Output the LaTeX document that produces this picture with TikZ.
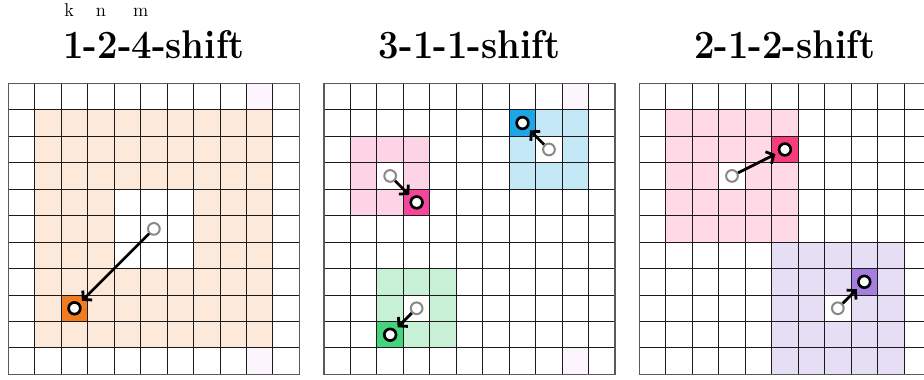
\documentclass[tikz,border=0pt]{standalone}
\usetikzlibrary{arrows.meta}
\definecolor{orangeL}{HTML}{FDE9DA}
\definecolor{orangeD}{HTML}{F07B20}
\definecolor{pinkL}{HTML}{FDD3E6}
\definecolor{pinkD}{HTML}{F3489A}
\definecolor{pinkTL}{HTML}{FFDAE6}
\definecolor{pinkTD}{HTML}{F43F7A}
\definecolor{blueL}{HTML}{C5E8F7}
\definecolor{blueD}{HTML}{1EA5E6}
\definecolor{greenL}{HTML}{C8F0D6}
\definecolor{greenD}{HTML}{45D37D}
\definecolor{purpleL}{HTML}{E6DEF5}
\definecolor{purpleD}{HTML}{A67EDF}
\definecolor{faintC}{HTML}{FDF5FD}
\definecolor{lineC}{HTML}{1A1A1A}
\definecolor{borderC}{HTML}{5A5A5A}
\definecolor{srcC}{HTML}{888888}
\tikzset{
  titletext/.style={inner sep=0pt, font=\fontsize{27.3pt}{30pt}\selectfont\bfseries},
  lettertext/.style={inner sep=0pt, font=\fontsize{14pt}{15pt}\selectfont},
  gridline/.style={draw=lineC, line width=0.75pt},
  gridborder/.style={draw=borderC, line width=1.1pt},
  srcdot/.style={circle, draw=srcC, fill=white, line width=1.5pt, minimum size=8.8pt, inner sep=0pt},
  dstdot/.style={circle, draw=black, fill=white, line width=2pt, minimum size=8.8pt, inner sep=0pt},
  shiftarrow/.style={draw=black, line width=2.1pt, -{Straight Barb[length=4.5pt,width=10pt]}, shorten >=2.5pt},
  cellgrid/.style={x=19.85pt, y=-19.85pt}
}
\begin{document}
\begin{tikzpicture}[x=0.75pt, y=-0.75pt]
\clip (0,0) rectangle (924,379);
\fill[white] (0,0) rectangle (924,379);

% titles
\node[titletext, anchor=base] (t1) at (154,58) {\scalebox{1}[1.1]{1-2-4-shift}};
\node[titletext, anchor=base] (t2) at (469.5,58) {\scalebox{1}[1.1]{3-1-1-shift}};
\node[titletext, anchor=base] (t3) at (784.8,58) {\scalebox{1}[1.1]{2-1-2-shift}};
\node[lettertext, anchor=base] (lk) at (69.3,16) {k};
\node[lettertext, anchor=base] (ln) at (101,16) {n};
\node[lettertext, anchor=base] (lm) at (140.7,16) {m};

% grid 1
\begin{scope}[shift={(6.225pt,-62.475pt)}, cellgrid]
  \fill[orangeL] (1,1) rectangle (10,10);
  \fill[white] (4,4) rectangle (7,7);
  \fill[orangeD] (2,8) rectangle (3,9);
  \fill[faintC] (9,0) rectangle (10,1);
  \fill[faintC] (9,10) rectangle (10,11);
  \foreach \i in {1,...,10} {
    \draw[gridline] (\i,0) -- (\i,11);
    \draw[gridline] (0,\i) -- (11,\i);
  }
  \draw[gridborder] (0,0) rectangle (11,11);
  \node[srcdot] (s1) at (5.5,5.5) {};
  \node[dstdot] (d1) at (2.5,8.5) {};
  \draw[shiftarrow] (s1) -- (d1);
\end{scope}

% grid 2
\begin{scope}[shift={(243pt,-62.475pt)}, cellgrid]
  \fill[blueL] (7,1) rectangle (10,4);
  \fill[white] (8,2) rectangle (9,3);
  \fill[blueD] (7,1) rectangle (8,2);
  \fill[pinkL] (1,2) rectangle (4,5);
  \fill[white] (2,3) rectangle (3,4);
  \fill[pinkD] (3,4) rectangle (4,5);
  \fill[greenL] (2,7) rectangle (5,10);
  \fill[white] (3,8) rectangle (4,9);
  \fill[greenD] (2,9) rectangle (3,10);
  \fill[faintC] (9,0) rectangle (10,1);
  \fill[faintC] (9,10) rectangle (10,11);
  \foreach \i in {1,...,10} {
    \draw[gridline] (\i,0) -- (\i,11);
    \draw[gridline] (0,\i) -- (11,\i);
  }
  \draw[gridborder] (0,0) rectangle (11,11);
  \node[srcdot] (s2a) at (8.5,2.5) {};
  \node[dstdot] (d2a) at (7.5,1.5) {};
  \draw[shiftarrow] (s2a) -- (d2a);
  \node[srcdot] (s2b) at (2.5,3.5) {};
  \node[dstdot] (d2b) at (3.5,4.5) {};
  \draw[shiftarrow] (s2b) -- (d2b);
  \node[srcdot] (s2c) at (3.5,8.5) {};
  \node[dstdot] (d2c) at (2.5,9.5) {};
  \draw[shiftarrow] (s2c) -- (d2c);
\end{scope}

% grid 3
\begin{scope}[shift={(479.5pt,-62.475pt)}, cellgrid]
  \fill[pinkTL] (1,1) rectangle (6,6);
  \fill[white] (3,3) rectangle (4,4);
  \fill[pinkTD] (5,2) rectangle (6,3);
  \fill[purpleL] (5,6) rectangle (10,11);
  \fill[white] (7,8) rectangle (8,9);
  \fill[purpleD] (8,7) rectangle (9,8);
  \foreach \i in {1,...,10} {
    \draw[gridline] (\i,0) -- (\i,11);
    \draw[gridline] (0,\i) -- (11,\i);
  }
  \draw[gridborder] (0,0) rectangle (11,11);
  \node[srcdot] (s3a) at (3.5,3.5) {};
  \node[dstdot] (d3a) at (5.5,2.5) {};
  \draw[shiftarrow] (s3a) -- (d3a);
  \node[srcdot] (s3b) at (7.5,8.5) {};
  \node[dstdot] (d3b) at (8.5,7.5) {};
  \draw[shiftarrow] (s3b) -- (d3b);
\end{scope}
\end{tikzpicture}
\end{document}
